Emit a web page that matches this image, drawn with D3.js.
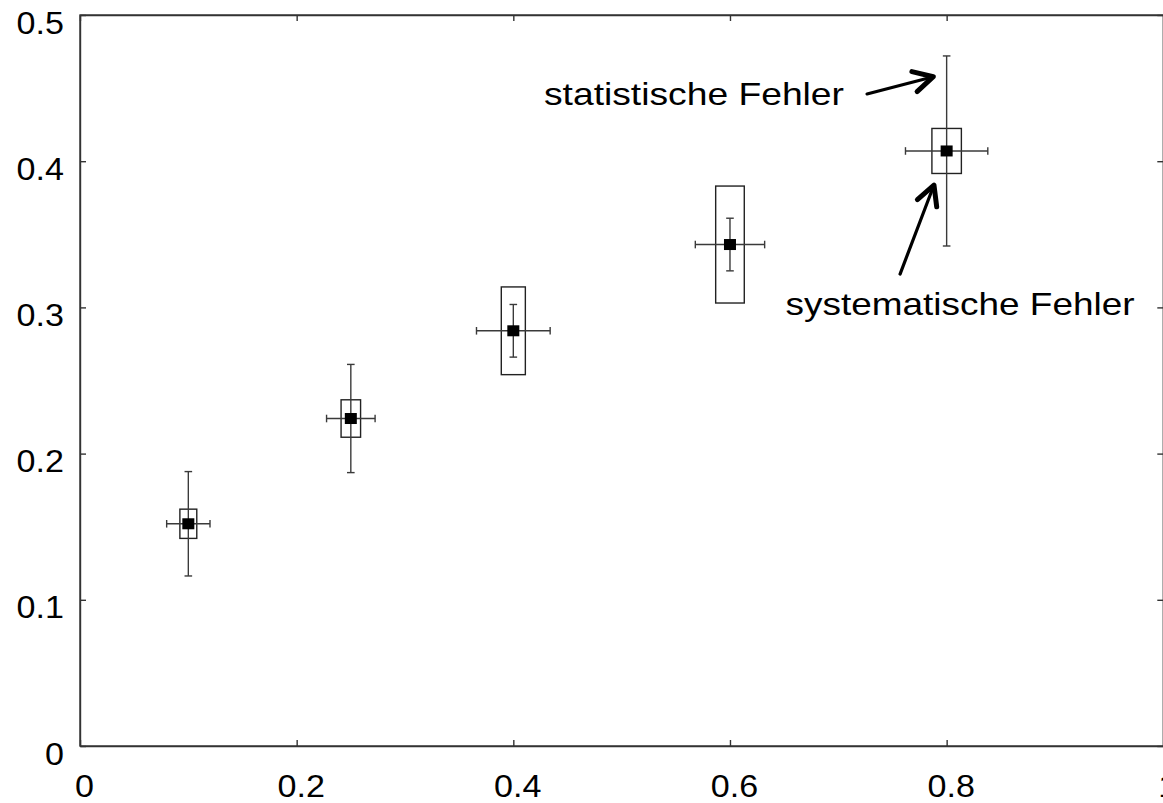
<!DOCTYPE html>
<html>
<head>
<meta charset="utf-8">
<script src="https://cdn.jsdelivr.net/npm/d3@7"></script>
<style>
  html, body { margin: 0; padding: 0; background: #fff; overflow: hidden; }
  svg { display: block; }
  text { font-family: Arial, "Liberation Sans", sans-serif; fill: #000; }
</style>
</head>
<body>
<svg id="chart" width="1163" height="803"></svg>
<script>
// ---- data ----
const xVals = [0.1, 0.25, 0.4, 0.6, 0.8];
const yVals = [0.152, 0.224, 0.284, 0.343, 0.407];
const xStatErr = [0.020, 0.0224, 0.034, 0.032, 0.038];
const yStatErr = [0.0357, 0.037, 0.018, 0.018, 0.065];
const xSysErr = [0.0078, 0.0090, 0.0111, 0.0132, 0.0136];
const ySysErr = [0.010, 0.0128, 0.030, 0.040, 0.0154];
const xTicks = [0, 0.2, 0.4, 0.6, 0.8, 1];
const xTickLabels = ["0", "0.2", "0.4", "0.6", "0.8", "1"];
const yTicks = [0, 0.1, 0.2, 0.3, 0.4, 0.5];
const yTickLabels = ["0", "0.1", "0.2", "0.3", "0.4", "0.5"];
const annoTexts = ["statistische Fehler", "systematische Fehler"];
const annoTextPos = [[0.4283, 0.4384], [0.6513, 0.2948]];
const annoTails = [[0.7265, 0.446], [0.757, 0.3228]];
const annoTips = [[0.7877, 0.4578], [0.7883, 0.3837]];

// ---- layout ----
const svg = d3.select("#chart");
const x = d3.scaleLinear().domain([0, 1]).range([80, 1163.3]);
const y = d3.scaleLinear().domain([0, 0.5]).range([746, 15]);
const axisColor = "#333";
const tickLen = 6;

// frame
const frame = svg.append("g");
frame.append("rect")
  .attr("x", x(0)).attr("y", y(0.5))
  .attr("width", x(1) - x(0)).attr("height", y(0) - y(0.5))
  .attr("fill", "none").attr("stroke", axisColor).attr("stroke-width", 1.4);

// axes with inward ticks
const fmtX = (d, i) => xTickLabels[i];
const fmtY = (d, i) => yTickLabels[i];

const xAxis = svg.append("g").attr("transform", `translate(0,${y(0)})`)
  .call(d3.axisBottom(x).tickValues(xTicks).tickFormat(fmtX).tickSizeInner(-tickLen).tickSizeOuter(0).tickPadding(0));
const xTop = svg.append("g").attr("transform", `translate(0,${y(0.5)})`)
  .call(d3.axisTop(x).tickValues(xTicks).tickFormat("").tickSizeInner(-tickLen).tickSizeOuter(0));
const yAxis = svg.append("g").attr("transform", `translate(${x(0)},0)`)
  .call(d3.axisLeft(y).tickValues(yTicks).tickFormat(fmtY).tickSizeInner(-tickLen).tickSizeOuter(0).tickPadding(0));
const yRight = svg.append("g").attr("transform", `translate(${x(1)},0)`)
  .call(d3.axisRight(y).tickValues(yTicks).tickFormat("").tickSizeInner(-tickLen).tickSizeOuter(0));

[xAxis, xTop, yAxis, yRight].forEach(g => {
  g.select(".domain").attr("stroke", axisColor).attr("stroke-width", 1.4);
  g.selectAll(".tick line").attr("stroke", axisColor).attr("stroke-width", 1.4);
});

// tick label styling
function stretch(sel, factor) {
  sel.each(function() {
    const w = this.getComputedTextLength();
    d3.select(this).attr("textLength", w * factor).attr("lengthAdjust", "spacingAndGlyphs");
  });
}
xAxis.selectAll(".tick text")
  .attr("font-size", 31).attr("fill", "#000")
  .attr("dy", null).attr("y", 51).attr("x", 4)
  .style("dominant-baseline", "alphabetic");
yAxis.selectAll(".tick text")
  .attr("font-size", 31).attr("fill", "#000")
  .attr("dy", null).attr("x", -16).attr("y", 18)
  .attr("text-anchor", "end")
  .style("dominant-baseline", "alphabetic");
stretch(xAxis.selectAll(".tick text"), 1.1);
stretch(yAxis.selectAll(".tick text"), 1.1);
xAxis.attr("font-family", null);
yAxis.attr("font-family", null);

// ---- data marks ----
const pts = xVals.map((v, i) => ({
  x: v, y: yVals[i], xs: xStatErr[i], ys: yStatErr[i], xsys: xSysErr[i], ysys: ySysErr[i]
}));
const errColor = "#3a3a3a";
const capHalf = 3.8;
const g = svg.append("g");

pts.forEach(p => {
  const cx = x(p.x), cy = y(p.y);
  // systematic box
  g.append("rect")
    .attr("x", x(p.x - p.xsys)).attr("y", y(p.y + p.ysys))
    .attr("width", x(p.x + p.xsys) - x(p.x - p.xsys))
    .attr("height", y(p.y - p.ysys) - y(p.y + p.ysys))
    .attr("fill", "none").attr("stroke", "#222").attr("stroke-width", 1.4);
  // vertical stat error
  g.append("line").attr("x1", cx).attr("x2", cx)
    .attr("y1", y(p.y + p.ys)).attr("y2", y(p.y - p.ys))
    .attr("stroke", errColor).attr("stroke-width", 1.4);
  [p.y + p.ys, p.y - p.ys].forEach(v => {
    g.append("line").attr("x1", cx - capHalf).attr("x2", cx + capHalf)
      .attr("y1", y(v)).attr("y2", y(v))
      .attr("stroke", errColor).attr("stroke-width", 1.4);
  });
  // horizontal stat error
  g.append("line").attr("y1", cy).attr("y2", cy)
    .attr("x1", x(p.x - p.xs)).attr("x2", x(p.x + p.xs))
    .attr("stroke", errColor).attr("stroke-width", 1.4);
  [p.x - p.xs, p.x + p.xs].forEach(v => {
    g.append("line").attr("y1", cy - capHalf).attr("y2", cy + capHalf)
      .attr("x1", x(v)).attr("x2", x(v))
      .attr("stroke", errColor).attr("stroke-width", 1.4);
  });
  // marker
  g.append("rect")
    .attr("x", cx - 6).attr("y", cy - 5.5)
    .attr("width", 12).attr("height", 11)
    .attr("fill", "#000");
});

// ---- annotations ----
const textWidths = [300, 349];
annoTexts.forEach((t, i) => {
  svg.append("text")
    .attr("x", x(annoTextPos[i][0])).attr("y", y(annoTextPos[i][1]))
    .attr("font-size", 30.5)
    .attr("textLength", textWidths[i]).attr("lengthAdjust", "spacingAndGlyphs")
    .text(t);
  const tx = x(annoTails[i][0]), ty = y(annoTails[i][1]);
  const hx = x(annoTips[i][0]), hy = y(annoTips[i][1]);
  svg.append("line").attr("x1", tx).attr("y1", ty).attr("x2", hx).attr("y2", hy)
    .attr("stroke", "#000").attr("stroke-width", 3.2).attr("stroke-linecap", "round");
  const ang = Math.atan2(ty - hy, tx - hx);
  const L = 22, a = 28 * Math.PI / 180;
  const p1 = [hx + L * Math.cos(ang + a), hy + L * Math.sin(ang + a)];
  const p2 = [hx + L * Math.cos(ang - a), hy + L * Math.sin(ang - a)];
  svg.append("path")
    .attr("d", `M${p1[0]},${p1[1]}L${hx},${hy}L${p2[0]},${p2[1]}`)
    .attr("fill", "none").attr("stroke", "#000").attr("stroke-width", 5)
    .attr("stroke-linecap", "round").attr("stroke-linejoin", "round");
});
</script>
</body>
</html>
